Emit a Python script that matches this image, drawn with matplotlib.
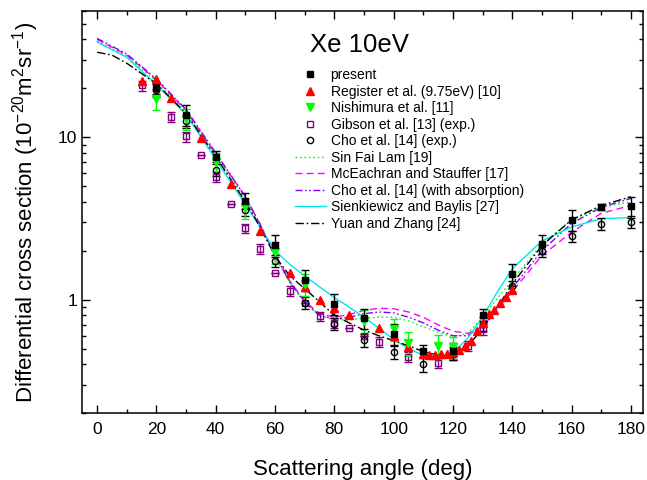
import matplotlib
matplotlib.use('Agg')
import matplotlib.pyplot as plt
from matplotlib.ticker import LogLocator, MultipleLocator, FuncFormatter, NullFormatter

plt.rcParams['font.family'] = ['Liberation Sans', 'DejaVu Sans']
plt.rcParams['mathtext.fontset'] = 'custom'
plt.rcParams['mathtext.rm'] = 'Liberation Sans'
plt.rcParams['mathtext.it'] = 'Liberation Sans:italic'
plt.rcParams['mathtext.bf'] = 'Liberation Sans:bold'

# ---------------- data ----------------
present_ang = [20, 30, 40, 50, 60, 70, 80, 90, 100, 110, 120, 130, 140, 150, 160, 170, 180]
present_val = [20.0, 13.7, 7.6, 4.06, 2.16, 1.33, 0.945, 0.77, 0.618, 0.483, 0.483, 0.809, 1.43, 2.21, 3.10, 3.71, 3.75]
present_err = [1.6, 2.0, 0.6, 0.45, 0.33, 0.2, 0.14, 0.11, 0.09, 0.04, 0.06, 0.07, 0.22, 0.3, 0.45, 0.15, 0.55]

register_ang = [15, 20, 25, 35, 45, 55, 65, 70, 75, 80, 85, 95, 100, 105, 110, 112, 114, 116, 118,
                120, 122, 124, 126, 128, 130, 132, 134, 136, 138, 140]
register_val = [22.3, 22.7, 17.4, 9.9, 5.17, 2.64, 1.46, 1.2, 0.99, 0.89, 0.81, 0.673, 0.60, 0.51, 0.465,
                0.454, 0.454, 0.46, 0.466, 0.474, 0.49, 0.52, 0.56, 0.64, 0.72, 0.82, 0.87, 0.96, 1.04, 1.15]

nishimura_ang = [20, 30, 40, 50, 60, 70, 90, 100, 105, 115, 120]
nishimura_val = [17.2, 12.9, 7.0, 3.7, 1.96, 1.25, 0.74, 0.66, 0.54, 0.52, 0.51]
nishimura_err = [2.6, 1.9, 1.0, 0.55, 0.3, 0.19, 0.12, 0.1, 0.09, 0.09, 0.08]

gibson_ang = [15, 25, 30, 35, 40, 45, 50, 55, 60, 65, 70, 75, 80, 85, 90, 95, 105, 115, 120, 125, 130]
gibson_val = [20.8, 13.3, 10.1, 7.8, 5.7, 3.9, 2.75, 2.06, 1.46, 1.13, 0.95, 0.79, 0.72, 0.67, 0.60, 0.55,
              0.445, 0.41, 0.46, 0.52, 0.66]
gibson_err = [1.5, 0.95, 0.7, 0.0, 0.4, 0.0, 0.19, 0.14, 0.0, 0.08, 0.0, 0.055, 0.05, 0.0, 0.0, 0.04,
              0.03, 0.03, 0.03, 0.04, 0.05]

cho_ang = [20, 30, 40, 50, 60, 70, 80, 90, 100, 110, 120, 130, 140, 150, 160, 170, 180]
cho_val = [19.5, 12.5, 6.3, 3.55, 1.74, 0.96, 0.71, 0.565, 0.476, 0.40, 0.47, 0.71, 1.21, 2.0, 2.45, 2.94, 3.0]
cho_err = [1.8, 1.1, 0.5, 0.3, 0.14, 0.08, 0.06, 0.05, 0.045, 0.04, 0.045, 0.07, 0.1, 0.16, 0.2, 0.25, 0.25]

th_ang = [0, 10, 20, 30, 40, 50, 55, 60, 65, 70, 75, 80, 85, 90, 95, 100, 105, 110, 115, 120, 125,
          130, 135, 140, 150, 160, 170, 180]
sinfailam = [39, 31.5, 22, 14.3, 7.7, 4.15, 2.8, 1.85, 1.27, 0.97, 0.80, 0.75, 0.75, 0.77, 0.78, 0.78,
             0.74, 0.68, 0.63, 0.59, 0.62, 0.78, 1.02, 1.32, 2.2, 3.1, 3.7, 4.0]
mceachran = [40, 32, 22.5, 14.6, 7.9, 4.3, 2.9, 1.9, 1.3, 0.98, 0.82, 0.78, 0.81, 0.86, 0.885, 0.88,
             0.84, 0.78, 0.70, 0.64, 0.62, 0.68, 0.88, 1.12, 1.87, 2.6, 3.4, 3.8]
cho_abs = [40.5, 32.5, 22.8, 14.8, 8.0, 4.3, 2.9, 1.88, 1.28, 0.96, 0.80, 0.76, 0.78, 0.82, 0.84, 0.83,
           0.78, 0.72, 0.65, 0.60, 0.60, 0.70, 0.90, 1.18, 2.0, 2.95, 3.7, 4.2]
sienkiewicz = [38.5, 31, 21, 13.8, 7.3, 3.85, 2.8, 2.0, 1.65, 1.40, 1.2, 1.03, 0.9, 0.78, 0.67, 0.57,
               0.50, 0.455, 0.44, 0.47, 0.58, 0.78, 1.12, 1.55, 2.3, 2.8, 3.15, 3.2]
yuan_ang = [0, 5, 10, 20, 30, 40, 50, 55, 60, 65, 70, 75, 80, 85, 90, 95, 100, 105, 110, 115, 120, 125,
            130, 135, 140, 150, 160, 170, 180]
yuan = [33.3, 32, 28.5, 21.3, 14, 7.6, 4.0, 2.8, 1.85, 1.4, 1.17, 0.97, 0.80, 0.72, 0.65, 0.60, 0.56,
        0.52, 0.48, 0.455, 0.46, 0.52, 0.66, 0.90, 1.25, 2.15, 3.1, 3.8, 4.3]

x_ticks = [0, 20, 40, 60, 80, 100, 120, 140, 160, 180]

# ---------------- figure ----------------
fig = plt.figure(figsize=(6.47, 4.8), dpi=100)
ax = fig.add_axes([0.1272, 0.139, 0.8662, 0.8387])

C_GREEN = '#00ff00'
C_MAG = '#ff00ff'
C_VIO = '#8000ff'
C_CYAN = '#00e5e5'
C_PURP = '#800080'

lw = 1.0
l1, = ax.plot(th_ang, sinfailam, color=C_GREEN, lw=lw, ls=(0, (1.2, 2.0)))
l2, = ax.plot(th_ang, mceachran, color=C_MAG, lw=lw, ls=(0, (5, 3)))
l3, = ax.plot(th_ang, cho_abs, color=C_VIO, lw=lw, ls=(0, (5, 1.8, 1.2, 1.8, 1.2, 1.8)))
l4, = ax.plot(th_ang, sienkiewicz, color=C_CYAN, lw=lw, ls='-')
l5, = ax.plot(yuan_ang, yuan, color='black', lw=lw, ls=(0, (6, 2, 1.2, 2)))

cap = 3.2
ax.errorbar(gibson_ang, gibson_val, yerr=gibson_err, fmt='none', ecolor=C_PURP, elinewidth=1, capsize=cap, capthick=1)
ax.errorbar(cho_ang, cho_val, yerr=cho_err, fmt='none', ecolor='black', elinewidth=1, capsize=cap, capthick=1)
ax.errorbar(nishimura_ang, nishimura_val, yerr=nishimura_err, fmt='none', ecolor=C_GREEN, elinewidth=1, capsize=cap, capthick=1)
ax.errorbar(present_ang, present_val, yerr=present_err, fmt='none', ecolor='black', elinewidth=1, capsize=cap, capthick=1)

m4, = ax.plot(gibson_ang, gibson_val, ls='none', marker='s', ms=4.8, mfc='none', mec=C_PURP, mew=1)
m5, = ax.plot(cho_ang, cho_val, ls='none', marker='o', ms=4.5, mfc='none', mec='black', mew=1)
m2, = ax.plot(register_ang, register_val, ls='none', marker='^', ms=5.5, color='red', mec='red')
m3, = ax.plot(nishimura_ang, nishimura_val, ls='none', marker='v', ms=5.5, color=C_GREEN, mec=C_GREEN)
m1, = ax.plot(present_ang, present_val, ls='none', marker='s', ms=4.8, color='black')

ax.set_yscale('log')
ax.set_xlim(-5, 184)
ax.set_ylim(0.2, 60)
ax.set_xticks(x_ticks)
ax.xaxis.set_minor_locator(MultipleLocator(10))
ax.yaxis.set_major_locator(LogLocator(base=10, numticks=10))
ax.yaxis.set_minor_locator(LogLocator(base=10, subs=[2, 3, 4, 5, 6, 7, 8, 9], numticks=20))
ax.yaxis.set_major_formatter(FuncFormatter(lambda v, p: '%g' % v))
ax.yaxis.set_minor_formatter(NullFormatter())

ax.tick_params(which='both', direction='in', top=True, right=True, width=1.0, labelsize=12.5)
ax.tick_params(axis='x', which='major', pad=6)
ax.tick_params(which='major', length=6)
ax.tick_params(which='minor', length=3)
for s in ax.spines.values():
    s.set_linewidth(1.1)

ax.set_xlabel('Scattering angle (deg)', fontsize=16, labelpad=16)
ax.set_ylabel('Differential cross section (10$^{-20}$m$^{2}$sr$^{-1}$)', fontsize=16, labelpad=12)

ax.text(0.406, 0.898, 'Xe 10eV', transform=ax.transAxes, fontsize=18.5, va='baseline', ha='left')

handles = [m1, m2, m3, m4, m5, l1, l2, l3, l4, l5]
labels = ['present', 'Register et al. (9.75eV) [10]', 'Nishimura et al. [11]',
          'Gibson et al. [13] (exp.)', 'Cho et al. [14] (exp.)', 'Sin Fai Lam [19]',
          'McEachran and Stauffer [17]', 'Cho et al. [14] (with absorption)',
          'Sienkiewicz and Baylis [27]', 'Yuan and Zhang [24]']
ax.legend(handles, labels, loc='upper left', bbox_to_anchor=(0.3795, 0.857), frameon=False,
          fontsize=10, handlelength=2.2, handletextpad=0.36, labelspacing=0.18, borderpad=0,
          borderaxespad=0)

fig.savefig('out.png', dpi=100)
